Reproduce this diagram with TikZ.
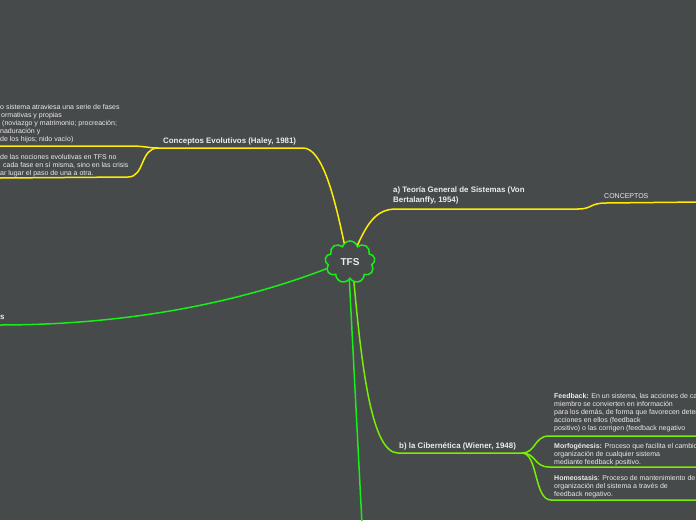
\documentclass[tikz,border=0pt]{standalone}
\usepackage{fontspec}
\setmainfont{Liberation Sans}
\usetikzlibrary{shapes.symbols}
\definecolor{bg}{RGB}{70,74,74}
\definecolor{ylw}{RGB}{255,238,0}
\definecolor{grn}{RGB}{24,238,24}
\definecolor{lime}{RGB}{120,238,0}
\definecolor{txt}{RGB}{236,236,236}
\begin{document}
\begin{tikzpicture}[x=1pt,y=-1pt,
  topic/.style={text=txt,font=\fontsize{7.9}{9.8}\selectfont\bfseries,inner sep=0pt,align=left},
  note/.style={text=txt,font=\fontsize{7}{8}\selectfont,inner sep=0pt,anchor=north west,align=left},
  link/.style={line width=1.5pt,line cap=round}]
  \fill[bg] (0,0) rectangle (696,520);
  \useasboundingbox (0,0) rectangle (696,520);
  % central idea
  \node[cloud,cloud puffs=9,aspect=1.2,minimum width=50pt,minimum height=42pt,draw=grn,line width=1.5pt,fill=bg,
    text=txt,font=\fontsize{10}{11}\selectfont\bfseries] (tfs) at (350,262) {TFS};
  % Conceptos Evolutivos
  \coordinate (ceR) at (303,148); \coordinate (ceL) at (158,148);
  \node[topic,anchor=base west] (ce) at (163,143) {Conceptos Evolutivos (Haley, 1981)};
  \draw[link,ylw] (tfs.107) .. controls (334,195) and (322,148) .. (ceR) -- (ceL);
  \coordinate (ce1) at (0,146); \coordinate (ce2) at (0,178);
  \node[note] (ce1t) at (0,104.5) {o sistema atraviesa una serie de fases\\
    \hspace*{1pt}ormativas y propias\\
    \hspace*{2pt}(noviazgo y matrimonio; procreación;\\
    naduración y\\
    de los hijos; nido vacío)};
  \node[note] (ce2t) at (0,154.5) {de las nociones evolutivas en TFS no\\
    \hspace*{3pt}cada fase en sí misma, sino en las crisis\\
    ar lugar el paso de una a otra.};
  \draw[link,ylw] (ceL) .. controls (148,148) and (145,146) .. (130,146) -- (ce1);
  \draw[link,ylw] (ceL) .. controls (140,148) and (145,177) .. (128,177) -- (ce2);
  % a) Teoria General de Sistemas
  \coordinate (tgsL) at (396,209); \coordinate (tgsR) at (578,209);
  \node[topic,anchor=north west] (tgs) at (393,187) {a) Teoría General de Sistemas (Von\\Bertalanffy, 1954)};
  \draw[link,ylw] (tfs.66) .. controls (368,222) and (377,209) .. (tgsL) -- (tgsR);
  \node[note,anchor=base west] (conc) at (604,198.5) {CONCEPTOS};
  \coordinate (concR) at (700,202);
  \draw[link,ylw] (tgsR) .. controls (592,209) and (590,203) .. (606,203) -- (concR);
  % left branch
  \node[topic,anchor=base west] (lb) at (0,319.5) {s};
  \coordinate (lbE) at (-2,325);
  \draw[link,grn] (tfs.196) .. controls (240,302) and (130,325) .. (lbE);
  % down branch
  \coordinate (dbE) at (362,524);
  \draw[link,grn] (tfs.268) -- (dbE);
  % b) la Cibernetica
  \coordinate (cibL) at (398,453); \coordinate (cibR) at (522,453);
  \node[topic,anchor=base west] (cib) at (399,448) {b) la Cibernética (Wiener, 1948)};
  \draw[link,lime] (tfs.281) .. controls (362,370) and (372,453) .. (cibL) -- (cibR);
  \node[note] (fb) at (554,393) {\textbf{Feedback:} En un sistema, las acciones de ca\\
    miembro se convierten en información\\
    para los demás, de forma que favorecen deter\\
    acciones en ellos (feedback\\
    positivo) o las corrigen (feedback negativo};
  \node[note] (mf) at (554,443) {\textbf{Morfogénesis:} Proceso que facilita el cambio\\
    organización de cualquier sistema\\
    mediante feedback positivo.};
  \node[note] (hm) at (554,475) {\textbf{Homeostasis}: Proceso de mantenimiento de\\
    organización del sistema a través de\\
    feedback negativo.};
  \coordinate (fbE) at (700,436); \coordinate (mfE) at (700,467); \coordinate (hmE) at (700,500);
  \draw[link,lime] (cibR) .. controls (536,453) and (534,436) .. (549,436) -- (fbE);
  \draw[link,lime] (cibR) .. controls (536,453) and (534,467) .. (549,467) -- (mfE);
  \draw[link,lime] (cibR) .. controls (538,453) and (534,500) .. (551,500) -- (hmE);
\end{tikzpicture}
\end{document}
